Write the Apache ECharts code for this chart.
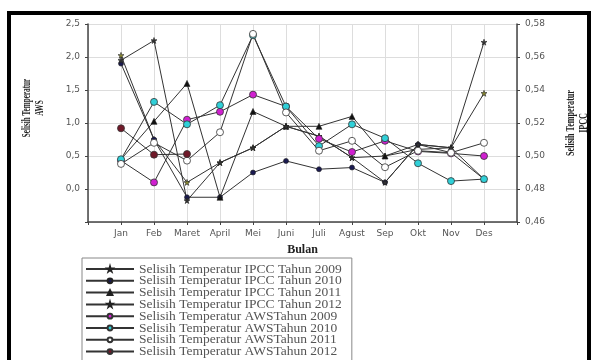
<!DOCTYPE html>
<html>
<head>
<meta charset="utf-8">
<script src="https://cdn.jsdelivr.net/npm/echarts@6/dist/echarts.min.js"></script>
<style>
  html, body { margin: 0; padding: 0; background: #fff; }
  #container { width: 594px; height: 360px; }
</style>
</head>
<body>
<div id="container"></div>
<script>
const dom = document.getElementById('container')
const myChart = echarts.init(dom, null, { renderer: 'canvas' })

const months = ['Jan', 'Feb', 'Maret', 'April', 'Mei', 'Juni', 'Juli', 'Agust', 'Sep', 'Okt', 'Nov', 'Des']

// Selisih Temperatur IPCC (sumbu kanan)
const ipcc2009 = [0.561, 0.510, 0.484, 0.496, 0.505, 0.518, 0.512, 0.499, 0.500, 0.507, 0.505, 0.538]
const ipcc2010 = [0.556, 0.510, 0.475, 0.475, 0.490, 0.497, 0.492, 0.493, 0.484, 0.507, 0.502, 0.486]
const ipcc2011 = [0.498, 0.521, 0.544, 0.475, 0.527, 0.518, 0.518, 0.524, 0.500, 0.504, 0.505, 0.486]
const ipcc2012 = [0.558, 0.570, 0.473, 0.496, 0.505, 0.518, 0.512, 0.499, 0.484, 0.507, 0.505, 0.569]

// Selisih Temperatur AWS (sumbu kiri)
const aws2009 = [0.43, 0.10, 1.05, 1.17, 1.43, 1.25, 0.76, 0.56, 0.73, 0.57, 0.54, 0.50]
const aws2010 = [0.45, 1.32, 0.98, 1.27, 2.33, 1.25, 0.65, 0.98, 0.77, 0.39, 0.12, 0.15]
const aws2011 = [0.38, 0.70, 0.43, 0.86, 2.35, 1.16, 0.58, 0.73, 0.33, 0.58, 0.55, 0.70]
const aws2012 = [0.92, 0.52, 0.53, null, null, null, null, null, null, null, null, null]

const leftTicks = [-0.5, 2.5, 0.5]
const rightTicks = [0.46, 0.58, 0.02]

// kategori kosong di kedua ujung supaya Jan dan Des tidak menempel sumbu
const cats = [''].concat(months, [''])
const pad = (arr) => [null].concat(arr, [null])
const comma = (v, d) => v.toFixed(d).replace('.', ',')

const star = 'path://M50,0 L61,35 L98,35 L68,57 L79,91 L50,70 L21,91 L32,57 L2,35 L39,35 Z'
const lineStyle = { color: '#333', width: 1 }

function ipccSeries (name, data, symbol, color, size) {
    return {
        name: name,
        type: 'line',
        yAxisIndex: 1,
        data: pad(data),
        symbol: symbol,
        symbolSize: size,
        lineStyle: lineStyle,
        itemStyle: { color: color, borderColor: '#222', borderWidth: 0.6 },
        z: 2
    }
}

function awsSeries (name, data, color) {
    return {
        name: name,
        type: 'line',
        yAxisIndex: 0,
        data: pad(data),
        symbol: 'circle',
        symbolSize: 7,
        lineStyle: lineStyle,
        itemStyle: { color: color, borderColor: '#333', borderWidth: 0.8 },
        z: 3
    }
}

const axisFont = { fontFamily: 'DejaVu Sans', fontSize: 9, color: '#555' }

const option = {
    backgroundColor: '#fff',
    animation: false,
    grid: { left: 88, right: 77, top: 24, bottom: 138 },
    legend: {
        orient: 'vertical',
        left: 82,
        top: 258,
        height: 140,
        itemWidth: 48,
        itemHeight: 6,
        itemGap: -2.2,
        padding: [4, 10, 4, 3],
        borderColor: '#888',
        borderWidth: 1,
        textStyle: { fontFamily: 'Liberation Serif', fontSize: 13.5, color: '#555' }
    },
    xAxis: {
        type: 'category',
        data: cats,
        boundaryGap: false,
        name: 'Bulan',
        nameLocation: 'middle',
        nameGap: 22,
        nameTextStyle: { fontFamily: 'Liberation Serif', fontWeight: 'bold', fontSize: 12, color: '#222' },
        axisLine: { onZero: false, lineStyle: { color: '#444', width: 1.5 } },
        axisTick: { show: true, length: 3, lineStyle: { color: '#444' } },
        axisLabel: Object.assign({ interval: 0, margin: 7 }, axisFont),
        splitLine: { show: true, lineStyle: { color: '#ddd', width: 1 } }
    },
    yAxis: [
        {
            type: 'value',
            min: leftTicks[0],
            max: leftTicks[1],
            interval: leftTicks[2],
            axisLine: { show: true, lineStyle: { color: '#444', width: 1.5 } },
            axisTick: { show: true, length: 3, lineStyle: { color: '#444' } },
            axisLabel: Object.assign({
                margin: 8,
                formatter: (v) => v < 0 ? '' : comma(v, 1)
            }, axisFont),
            splitLine: { show: true, lineStyle: { color: '#ddd', width: 1 } }
        },
        {
            type: 'value',
            min: rightTicks[0],
            max: rightTicks[1],
            interval: rightTicks[2],
            axisLine: { show: true, lineStyle: { color: '#444', width: 1.5 } },
            axisTick: { show: true, length: 3, lineStyle: { color: '#444' } },
            axisLabel: Object.assign({
                margin: 8,
                formatter: (v) => comma(v, 2)
            }, axisFont),
            splitLine: { show: false }
        }
    ],
    graphic: [
        {
            type: 'rect',
            shape: { x: 9, y: 13, width: 580, height: 380 },
            style: { fill: 'none', stroke: '#000', lineWidth: 4 },
            silent: true
        },
        {
            type: 'text',
            x: 33, y: 108,
            rotation: Math.PI / 2,
            scaleX: 0.55,
            style: {
                text: 'Selisih Temperatur\nAWS',
                fontFamily: 'Liberation Serif', fontWeight: 'bold', fontSize: 13,
                fill: '#222', align: 'center', verticalAlign: 'middle', lineHeight: 13
            }
        },
        {
            type: 'text',
            x: 577, y: 123,
            rotation: Math.PI / 2,
            scaleX: 0.62,
            style: {
                text: 'Selisih Temperatur\nIPCC',
                fontFamily: 'Liberation Serif', fontWeight: 'bold', fontSize: 13,
                fill: '#222', align: 'center', verticalAlign: 'middle', lineHeight: 13
            }
        }
    ],
    series: [
        ipccSeries('Selisih Temperatur IPCC Tahun 2009', ipcc2009, star, '#8a8a30', 6),
        ipccSeries('Selisih Temperatur IPCC Tahun 2010', ipcc2010, 'circle', '#1a1a50', 5),
        ipccSeries('Selisih Temperatur IPCC Tahun 2011', ipcc2011, 'triangle', '#111', 6),
        ipccSeries('Selisih Temperatur IPCC Tahun 2012', ipcc2012, star, '#333', 6),
        awsSeries('Selisih Temperatur AWSTahun 2009', aws2009, '#d020d0'),
        awsSeries('Selisih Temperatur AWSTahun 2010', aws2010, '#30d0d8'),
        awsSeries('Selisih Temperatur AWSTahun 2011', aws2011, '#ffffff'),
        awsSeries('Selisih Temperatur AWSTahun 2012', aws2012, '#701828')
    ]
}

myChart.setOption(option)
</script>
</body>
</html>
